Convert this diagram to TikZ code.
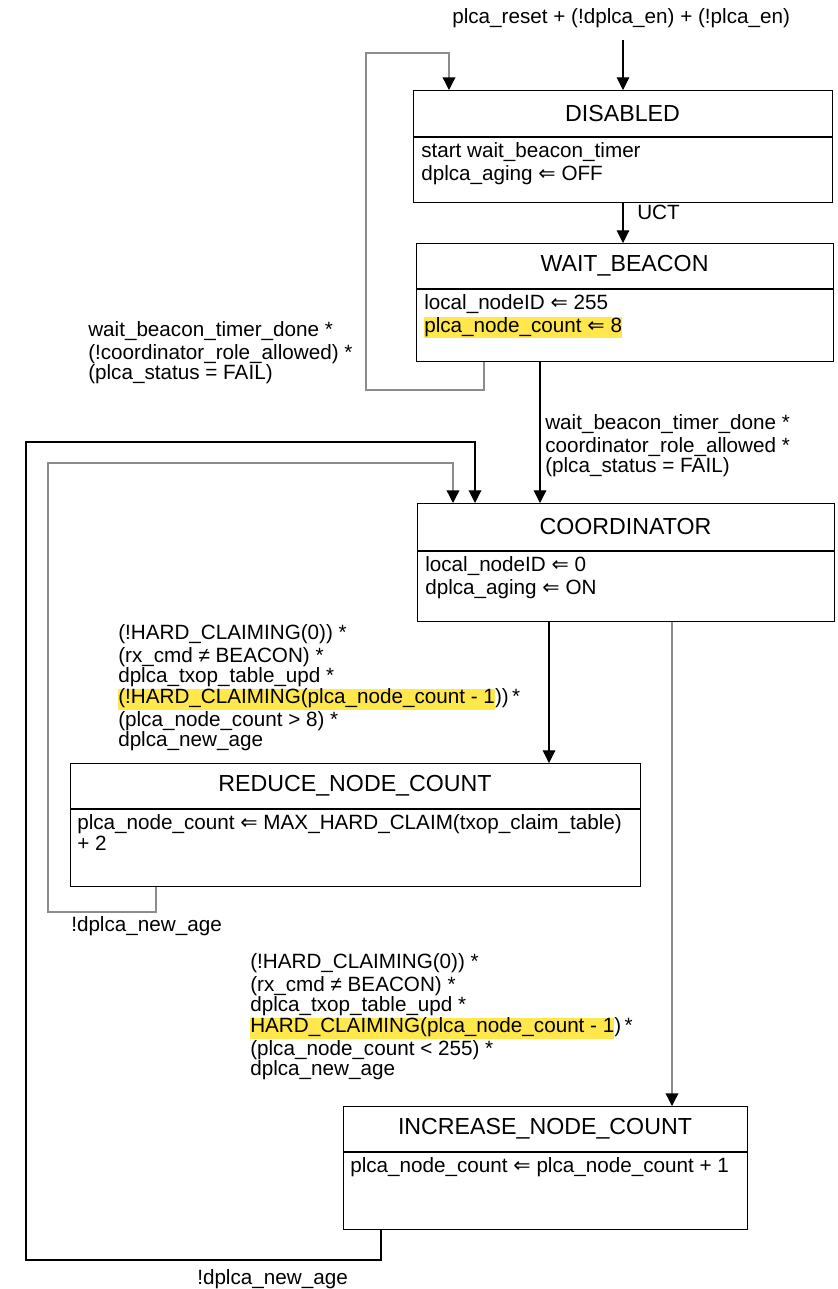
\documentclass[tikz,border=0pt]{standalone}
\usepackage{fontspec}
\setmainfont{Liberation Sans}
\newfontfamily\arrowfont{DejaVu Sans}
\usetikzlibrary{arrows.meta}
\definecolor{hly}{RGB}{255,231,76}
\definecolor{wire}{gray}{0.55}
% assignment arrow and highlighted text
\newcommand\asg{{\arrowfont\char"21D0}}
\newcommand\hl[1]{{\setlength{\fboxsep}{0pt}\colorbox{hly}{\strut#1}}}
\begin{document}
\begin{tikzpicture}[x=0.75pt,y=-0.75pt,
  font=\fontsize{15.5}{15.5}\selectfont,
  state/.style={draw, line width=1.1pt, inner sep=0pt, anchor=north west},
  title/.style={font=\fontsize{17.4}{17.4}\selectfont, inner sep=0pt},
  body/.style={anchor=north west, align=left, inner sep=0pt},
  cond/.style={anchor=north west, align=left, inner sep=0pt},
  divider/.style={line width=0.9pt},
  link/.style={line width=0.8pt, -{Triangle[black,width=9.5pt,length=9.5pt]}},
  faint/.style={draw=wire, line width=1pt},
  plain/.style={line width=0.8pt}]
\useasboundingbox (0,0) rectangle (838,1289);

% ---- states ----
\node[state, minimum width=314.25pt, minimum height=84pt] (dis) at (413,90) {};
\draw[divider] (413,137) -- (832,137);
\node[title] (disT) at (622.5,113.5) {DISABLED};
\node[body] (disB) at (421,142.5) {\strut start wait\_beacon\_timer\\dplca\_aging \asg{} OFF};

\node[state, minimum width=312.75pt, minimum height=88.5pt] (wb) at (416,243) {};
\draw[line width=1.6pt] (416,289) -- (833,289);
\node[title] (wbT) at (624.5,266) {WAIT\_BEACON};
\node[body] (wbB) at (424,294.5) {\strut local\_nodeID \asg{} 255\\\hl{plca\_node\_count \asg{} 8}};

\node[state, minimum width=312.75pt, minimum height=88.5pt] (co) at (417,503) {};
\draw[divider] (417,551) -- (834,551);
\node[title] (coT) at (625.5,527) {COORDINATOR};
\node[body] (coB) at (425,556.5) {\strut local\_nodeID \asg{} 0\\dplca\_aging \asg{} ON};

\node[state, minimum width=427.5pt, minimum height=92.25pt] (rd) at (70,763) {};
\draw[divider] (70,809) -- (640,809);
\node[title] (rdT) at (355,786) {REDUCE\_NODE\_COUNT};
\node[body] (rdB) at (77,814.5) {\strut plca\_node\_count \asg{} MAX\_HARD\_CLAIM(txop\_claim\_table)\\+ 2};

\node[state, minimum width=303pt, minimum height=92.25pt] (inc) at (343,1106) {};
\draw[divider] (343,1152) -- (747,1152);
\node[title] (incT) at (545,1129) {INCREASE\_NODE\_COUNT};
\node[body] (incB) at (350,1157.5) {\strut plca\_node\_count \asg{} plca\_node\_count + 1};

% ---- transition conditions ----
\node[cond] (lReset) at (452,8.5) {\strut plca\_reset + (!dplca\_en) + (!plca\_en)};
\node[cond] (lUct) at (637,204.5) {\strut UCT};
\node[cond] (lFail) at (88,321.5) {\strut wait\_beacon\_timer\_done *\\(!coordinator\_role\_allowed) *\\(plca\_status = FAIL)};
\node[cond] (lCoord) at (545,414.5) {\strut wait\_beacon\_timer\_done *\\coordinator\_role\_allowed *\\(plca\_status = FAIL)};
\node[cond] (lReduce) at (118,624.5) {\strut (!HARD\_CLAIMING(0)) *\\(rx\_cmd ≠ BEACON) *\\dplca\_txop\_table\_upd *\\\hl{(!HARD\_CLAIMING(plca\_node\_count - 1}))\,*\\(plca\_node\_count > 8) *\\dplca\_new\_age};
\node[cond] (lIncrease) at (250,953.5) {\strut (!HARD\_CLAIMING(0)) *\\(rx\_cmd ≠ BEACON) *\\dplca\_txop\_table\_upd *\\\hl{HARD\_CLAIMING(plca\_node\_count - 1})\,*\\(plca\_node\_count < 255) *\\dplca\_new\_age};
\node[cond] (lAgeR) at (71,916.5) {\strut !dplca\_new\_age};
\node[cond] (lAgeI) at (197,1269.5) {\strut !dplca\_new\_age};

% ---- bend points ----
\coordinate (rs) at (623,40);
\coordinate (xw) at (540,0);
\coordinate (xr) at (549,0);
\coordinate (xi) at (672,0);
\coordinate (wl1) at (484,390);
\coordinate (wl2) at (366,390);
\coordinate (wl3) at (366,53);
\coordinate (wl4) at (449,53);
\coordinate (rl1) at (156,912);
\coordinate (rl2) at (48,912);
\coordinate (rl3) at (48,463);
\coordinate (rl4) at (453,463);
\coordinate (il1) at (381,1260);
\coordinate (il2) at (26,1260);
\coordinate (il3) at (26,442);
\coordinate (il4) at (475,442);

% ---- transitions ----
\draw[link] (rs) -- (rs |- dis.north);
\draw[link] (dis.south -| rs) -- (wb.north -| rs);
\draw[link,faint] (wb.south -| wl1) -- (wl1) -- (wl2) -- (wl3) -- (wl4) -- (wl4 |- dis.north);
\draw[link] (wb.south -| xw) -- (co.north -| xw);
\draw[link] (co.south -| xr) -- (rd.north -| xr);
\draw[link,faint] (co.south -| xi) -- (inc.north -| xi);
\draw[link,faint] (rd.south -| rl1) -- (rl1) -- (rl2) -- (rl3) -- (rl4) -- (rl4 |- co.north);
\draw[link] (inc.south -| il1) -- (il1) -- (il2) -- (il3) -- (il4) -- (il4 |- co.north);
\end{tikzpicture}
\end{document}
